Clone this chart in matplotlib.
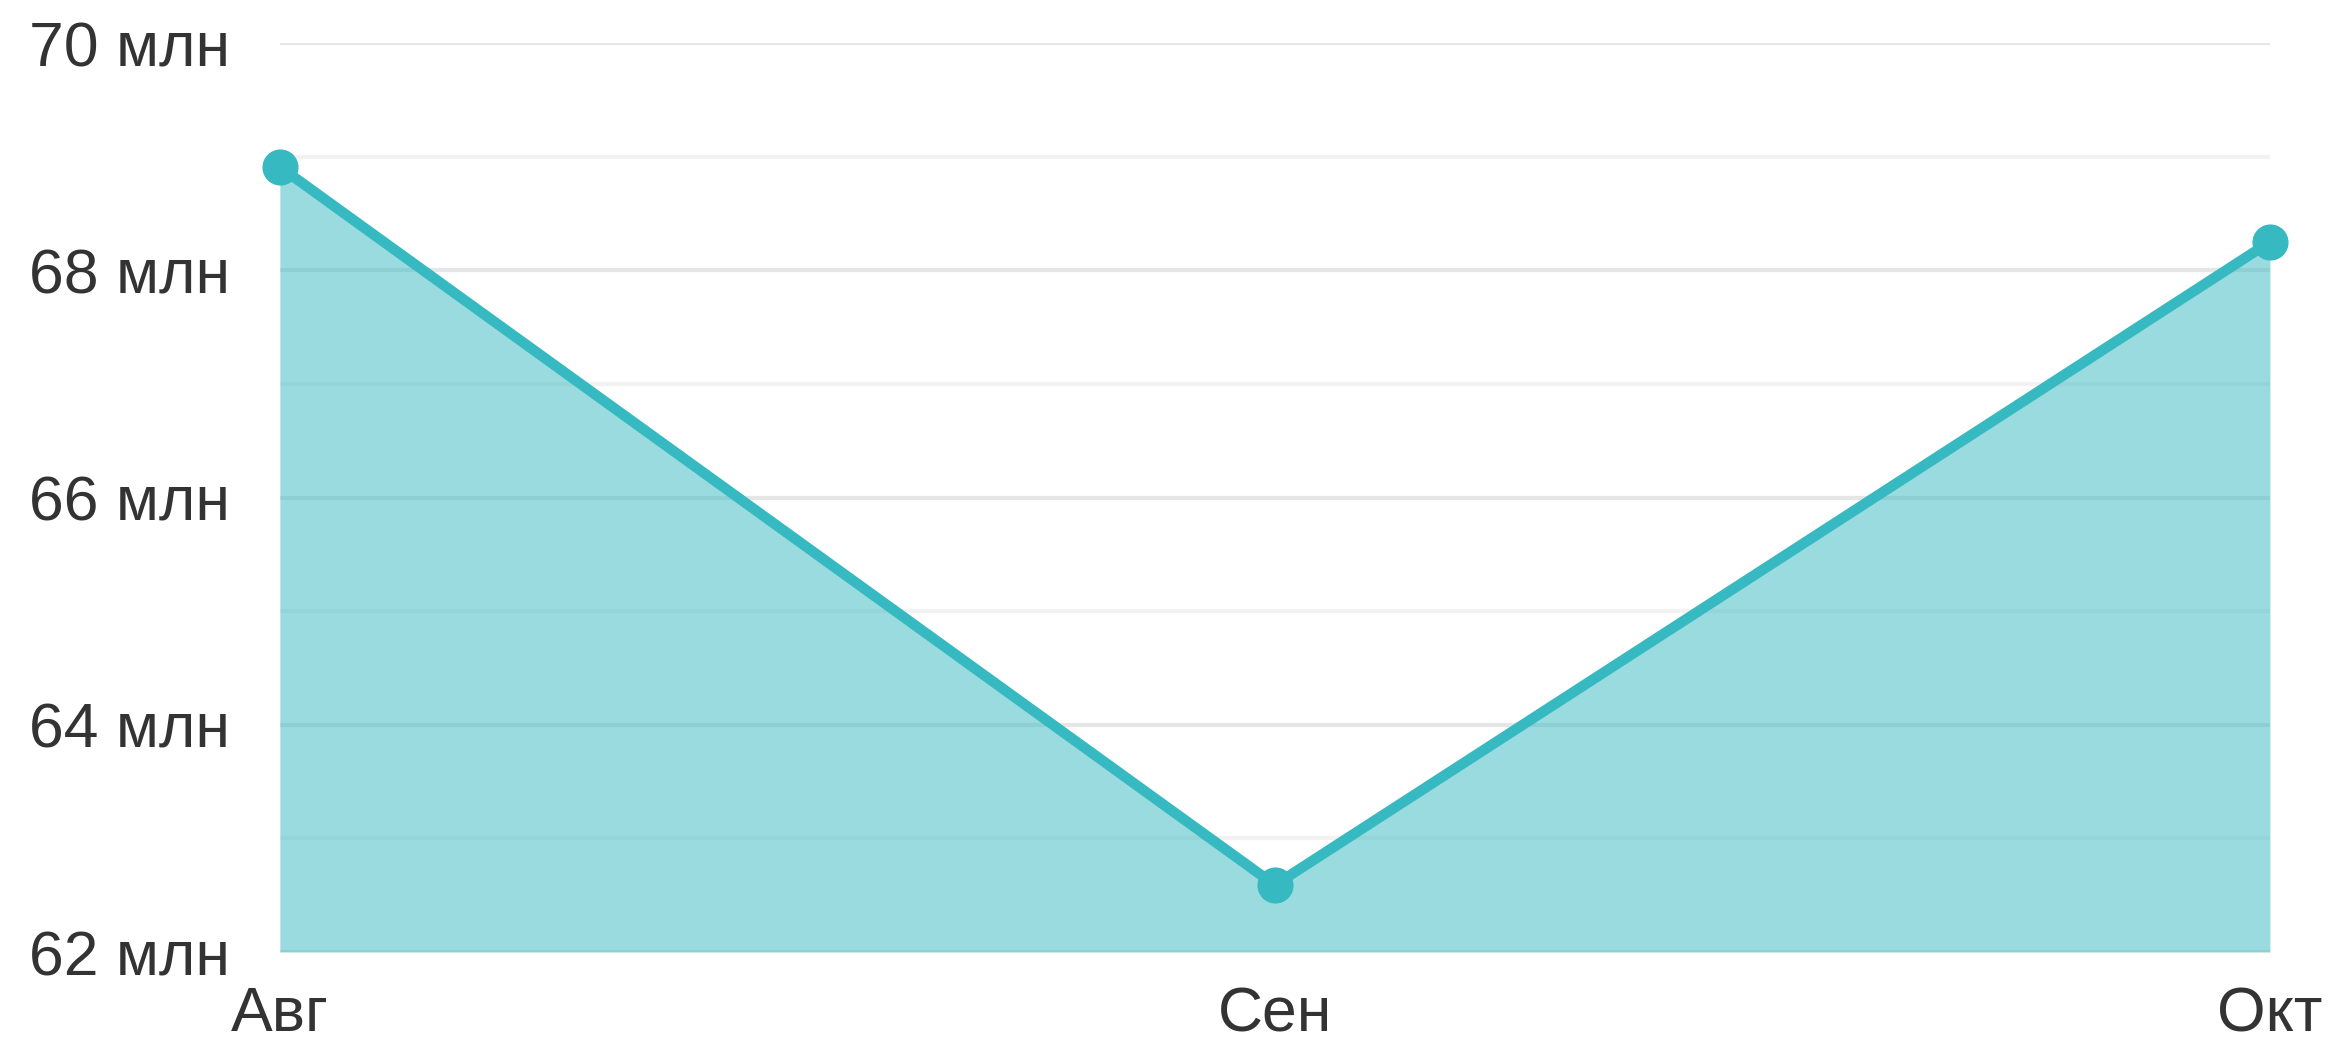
import matplotlib.pyplot as plt

months = ['Авг', 'Сен', 'Окт']
values = [68.91, 62.59, 68.25]  # млн
y_ticks = [62, 64, 66, 68, 70]
y_minor = [63, 65, 67, 69]
y_labels = ['62 млн', '64 млн', '66 млн', '68 млн', '70 млн']

line_color = '#36b9c1'
text_color = '#333333'

plt.rcParams['font.family'] = ['Liberation Sans', 'DejaVu Sans']

fig = plt.figure(figsize=(23.32, 10.47), dpi=100)
ax = fig.add_axes([0.12, 0.0907, 0.8534, 0.8682])

x = list(range(len(months)))
ax.fill_between(x, values, 62, color=line_color, alpha=0.5, linewidth=0, zorder=2)
ax.plot(x, values, color=line_color, linewidth=7.5, marker='o', markersize=25,
        solid_capstyle='round', clip_on=False, zorder=3)

ax.set_xlim(0, len(months) - 1)
ax.set_ylim(62, 70)

ax.set_yticks(y_ticks)
ax.set_yticklabels(y_labels)
ax.set_yticks(y_minor, minor=True)
ax.set_xticks(x)
ax.set_xticklabels(months)

ax.grid(True, axis='y', which='major', color='#e6e6e6', linewidth=3, zorder=1)
ax.grid(True, axis='y', which='minor', color='#f2f2f2', linewidth=3, zorder=1)
ax.grid(False, axis='x')
ax.set_axisbelow(True)

for s in ax.spines.values():
    s.set_visible(False)

ax.tick_params(axis='both', which='both', length=0, labelsize=45, labelcolor=text_color)
ax.tick_params(axis='y', pad=36)
ax.tick_params(axis='x', pad=24)

plt.savefig('out.png', dpi=100)
